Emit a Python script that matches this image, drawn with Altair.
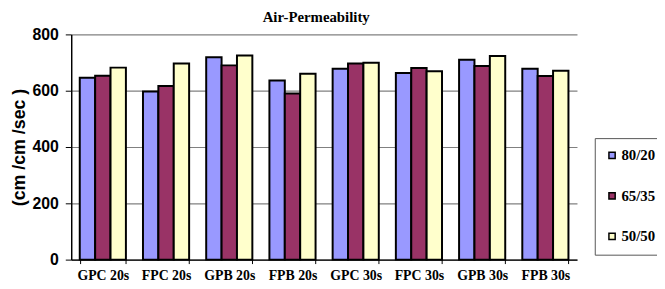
import altair as alt
import pandas as pd

categories = ["GPC 20s", "FPC 20s", "GPB 20s", "FPB 20s", "GPC 30s", "FPC 30s", "GPB 30s", "FPB 30s"]
series = ["80/20", "65/35", "50/50"]
v_80_20 = [646, 597, 719, 636, 678, 663, 710, 678]
v_65_35 = [653, 617, 690, 590, 697, 681, 688, 652]
v_50_50 = [682, 697, 725, 660, 699, 669, 723, 671]
colors = ["#9999FF", "#993366", "#FFFFCC"]

rows = []
for s, vals in zip(series, [v_80_20, v_65_35, v_50_50]):
    for c, v in zip(categories, vals):
        rows.append({"cat": c, "series": s, "value": v})
df = pd.DataFrame(rows)

bars = alt.Chart(df).mark_bar(stroke="black", strokeWidth=2).encode(
    x=alt.X("cat:N", sort=categories,
            scale=alt.Scale(paddingInner=0.27, paddingOuter=0.135),
            axis=alt.Axis(title=None, labelAngle=0, labelFont="Liberation Serif",
                          labelFontWeight="bold", labelFontSize=14, labelColor="black",
                          labelPadding=5, domainColor="black", domainWidth=1.5,
                          tickColor="black", tickSize=4, tickBand="extent", ticks=True)),
    xOffset=alt.XOffset("series:N", sort=series),
    y=alt.Y("value:Q", scale=alt.Scale(domain=[0, 800], nice=False),
            axis=alt.Axis(title="(cm /cm /sec )", values=[0, 200, 400, 600, 800],
                          labelFont="Liberation Sans", labelFontWeight="bold",
                          labelFontSize=16, labelColor="black", labelPadding=7,
                          titleFont="Liberation Sans", titleFontWeight="bold",
                          titleFontSize=18, titleColor="black", titlePadding=4,
                          domainColor="black", domainWidth=1.5, tickColor="black",
                          tickSize=6, gridColor="#808080", gridWidth=1.2)),
    color=alt.Color("series:N", sort=series,
                    scale=alt.Scale(domain=series, range=colors),
                    legend=alt.Legend(title=None, orient="none", legendX=530, legendY=105,
                                      symbolType="square", symbolSize=40,
                                      symbolStrokeColor="black", symbolStrokeWidth=1.5,
                                      labelFont="Liberation Serif", labelFontWeight="bold",
                                      labelFontSize=15, labelColor="black", labelOffset=2,
                                      rowPadding=25, padding=10,
                                      strokeColor="#555555", fillColor="white")),
)

chart = bars.properties(
    width=512, height=228,
    title=alt.TitleParams("Air-Permeability", font="Liberation Serif", fontWeight="bold",
                          fontSize=15, color="black", anchor="middle", offset=2, dx=-8),
    autosize=alt.AutoSizeParams(type="none"),
    padding={"left": 64, "top": 25, "right": 81, "bottom": 28},
).configure_view(stroke=None).configure_axis(grid=True).configure_axisX(grid=False)

chart.save("out.html", embed_options={"renderer": "svg", "actions": False})
